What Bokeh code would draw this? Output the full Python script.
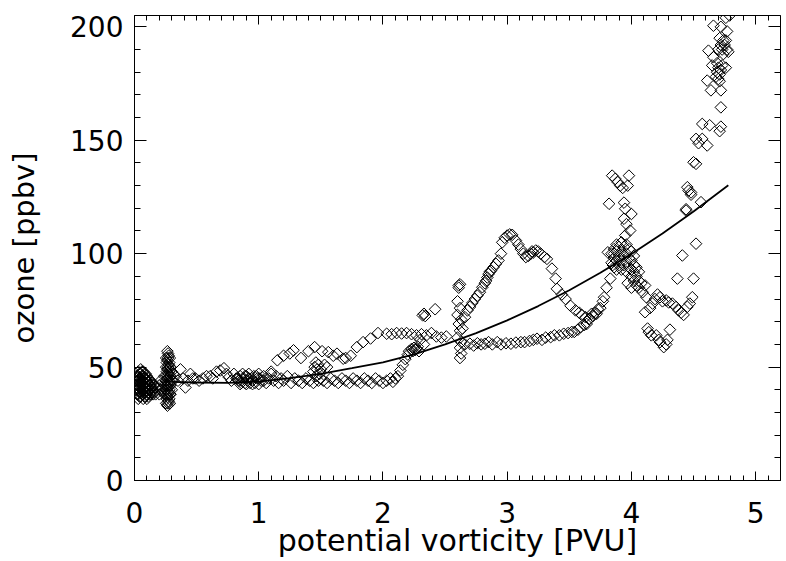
from bokeh.plotting import figure
from bokeh.models import (Range1d, LinearAxis, SingleIntervalTicker,
                          CustomJSTickFormatter, ColumnDataSource)
from bokeh.embed import file_html
from bokeh.resources import INLINE

# ---------------- data ----------------
A_pv = [0.02, 0.02, 0.02, 0.02, 0.02, 0.04, 0.04, 0.04, 0.04, 0.04, 0.04,
        0.06, 0.06, 0.06, 0.06, 0.06, 0.06, 0.08, 0.08, 0.08, 0.08, 0.08, 0.08,
        0.10, 0.10, 0.10, 0.10, 0.10, 0.10, 0.12, 0.12, 0.12, 0.12,
        0.14, 0.14, 0.14, 0.16, 0.16, 0.19, 0.21, 0.21]
A_o3 = [38, 40, 42, 44, 46, 37, 39, 41, 43, 45, 47,
        38, 40, 42, 44, 46, 48, 37, 39, 41, 43, 45, 47,
        36, 38, 40, 42, 44, 46, 38, 40, 42, 44,
        39, 41, 43, 39, 42, 41, 40, 44]

A2_pv = [0.01, 0.01, 0.01, 0.01, 0.01,
         0.03, 0.03, 0.03, 0.03, 0.03, 0.03, 0.03,
         0.05, 0.05, 0.05, 0.05, 0.05, 0.05, 0.05,
         0.07, 0.07, 0.07, 0.07, 0.07, 0.07, 0.07,
         0.09, 0.09, 0.09, 0.09, 0.09, 0.09,
         0.11, 0.11, 0.11, 0.11, 0.11,
         0.13, 0.13, 0.13, 0.13,
         0.15, 0.15, 0.15, 0.17, 0.17, 0.20, 0.20]
A2_o3 = [39, 41, 43, 45, 47,
         36, 38, 40, 42, 44, 46, 48,
         37, 39, 41, 43, 45, 47, 49,
         36, 38, 40, 42, 44, 46, 48,
         37, 39, 41, 43, 45, 47,
         37, 39, 41, 43, 45,
         38, 40, 42, 44,
         38, 40, 42, 38, 41, 38, 42]

B_pv = [0.25, 0.25, 0.26, 0.26, 0.26, 0.26, 0.26, 0.27, 0.27, 0.27, 0.27, 0.27, 0.27, 0.27,
        0.28, 0.28, 0.28, 0.28, 0.28, 0.29, 0.29, 0.29, 0.29, 0.31, 0.31]
B_o3 = [40, 44, 36, 40, 44, 48, 52, 34, 38, 42, 46, 50, 54, 56,
        36, 40, 44, 48, 52, 38, 42, 46, 50, 44, 47]

B2_pv = [0.24, 0.24, 0.24,
         0.255, 0.255, 0.255, 0.255, 0.255, 0.255,
         0.265, 0.265, 0.265, 0.265, 0.265, 0.265, 0.265,
         0.275, 0.275, 0.275, 0.275, 0.275, 0.275,
         0.285, 0.285, 0.285, 0.285, 0.285, 0.285,
         0.30, 0.30, 0.30]
B2_o3 = [38, 42, 46,
         34, 38, 42, 46, 50, 54,
         33, 37, 41, 45, 49, 53, 57,
         35, 39, 43, 47, 51, 55,
         34, 38, 42, 46, 50, 54,
         40, 44, 48]

C_pv = [0.33, 0.35, 0.37, 0.39, 0.41, 0.43, 0.45, 0.47, 0.49, 0.52, 0.55, 0.58, 0.61,
        0.63, 0.66, 0.69, 0.72, 0.74, 0.76, 0.78, 0.80, 0.82]
C_o3 = [46, 44, 49, 45, 41, 44, 47, 45, 45, 44, 45, 46, 46,
        45, 48, 48.5, 49.5, 47, 45.5, 44, 47, 45]

D_pv = [0.84, 0.85, 0.86, 0.87, 0.88, 0.89, 0.90, 0.91, 0.92, 0.93,
        0.94, 0.96, 0.97, 0.99, 1.00, 1.02, 1.04, 1.06, 1.08, 1.10,
        1.12, 1.14, 1.16, 1.18, 1.20, 1.23, 1.26, 1.29, 1.32, 1.35,
        1.38, 1.41, 1.44, 1.46, 1.48, 1.50,
        1.44, 1.45, 1.46, 1.47, 1.48, 1.49, 1.50, 1.53, 1.55]
D_o3 = [44, 46, 43, 47, 45, 43, 46, 44, 47, 43,
        45, 46, 43, 45, 47, 44, 46, 43, 45, 47,
        44, 46, 43, 45, 44, 46, 43, 45, 44, 43,
        45, 44, 43, 46, 44, 45,
        48, 50, 52, 49, 51, 47, 49, 51, 50]

D2_pv = [0.83, 0.86, 0.89, 0.92, 0.95, 0.98, 1.01, 1.04, 0.85, 0.90, 0.95, 1.00]
D2_o3 = [45, 44, 46, 45, 44, 46, 45, 44, 42.5, 42.5, 42.5, 42.5]

E_pv = [1.10, 1.15, 1.20, 1.25, 1.28, 1.34, 1.40, 1.45, 1.51, 1.56,
        1.60, 1.63, 1.68, 1.70, 1.74, 1.79, 1.84, 1.90, 1.96, 2.03,
        2.07, 2.11, 2.15, 2.19, 2.23, 2.27, 2.31, 2.35, 2.39, 2.43,
        2.47, 2.51]
E_o3 = [48, 53, 55, 56, 57.4, 54, 57, 58.8, 57, 56.6,
        55, 55.9, 53.7, 54, 55, 58.8, 61, 62.6, 65, 64.7,
        64.5, 65, 64.8, 65, 64.5, 64, 64.5, 64, 65, 63.5,
        63, 63.5]

F_pv = [1.52, 1.55, 1.58, 1.61, 1.64, 1.67, 1.70, 1.73, 1.76, 1.79,
        1.82, 1.85, 1.88, 1.91, 1.94, 1.97, 2.00, 2.03, 2.06, 2.08,
        2.10, 2.12, 2.14, 2.16, 2.18, 2.20, 2.21, 2.23, 2.24, 2.25,
        2.26, 2.27, 2.28, 2.29]
F_o3 = [44, 43, 45, 44, 43, 45, 44, 43, 45, 44,
        43, 45, 44, 43, 45, 44, 43, 44, 45, 43.5,
        45, 46, 48.5, 51, 53.5, 55.5, 57, 58, 57, 58.5,
        57.5, 58, 59, 57]

G_pv = [2.30, 2.33, 2.32, 2.33, 2.34, 2.42, 2.61, 2.62, 2.61, 2.60,
        2.62, 2.60, 2.63, 2.61, 2.62, 2.60, 2.63, 2.62, 2.63, 2.62]
G_o3 = [62, 60, 72.8, 73.5, 72.5, 75.5, 85, 86.5, 86, 79,
        76, 73, 71, 69, 66, 63, 61, 58.5, 56, 54]

H_pv = [2.66, 2.70, 2.73, 2.76, 2.79, 2.82, 2.85, 2.88, 2.92, 2.95,
        2.99, 3.03, 3.07, 3.11, 3.14, 3.18, 3.21, 3.24, 3.28, 3.31,
        3.35, 3.38, 3.42, 3.455, 3.49, 3.52, 3.54, 3.57, 3.59, 3.62,
        3.64, 3.66, 3.68, 3.71, 3.73, 3.75, 3.77, 3.78, 3.80, 3.83,
        3.85, 3.86]
H_o3 = [60, 60.3, 59.5, 60.5, 60, 60.3, 61, 60, 61, 60,
        60.5, 60.3, 60.8, 61, 61, 61.5, 62, 62.5, 62, 63,
        63.2, 64, 64, 64.7, 65, 65.5, 65.5, 66.5, 67.6, 68.5,
        69, 71, 73.5, 74, 75.5, 76, 79, 80.8, 85, 89,
        95, 100]

I_pv = [2.64, 2.66, 2.68, 2.70, 2.72, 2.74, 2.76, 2.78, 2.80, 2.82,
        2.83, 2.84, 2.85, 2.86, 2.87, 2.89, 2.91, 2.93, 2.95, 2.96,
        2.98, 3.00, 3.02, 3.04, 3.07, 3.09, 3.11, 3.13, 3.15, 3.17,
        3.19, 3.20, 3.21, 3.23, 3.25, 3.27, 3.30, 3.32, 3.36, 3.39,
        3.40, 3.44, 3.47, 3.51, 3.55, 3.58, 3.60, 3.63, 3.66, 3.69,
        3.72]
I_o3 = [67, 72, 75, 76.5, 78.3, 80, 81.5, 83, 85.2, 87,
        88, 89.5, 91, 92, 92.5, 94, 95.5, 97, 100, 105,
        107, 108, 108.5, 108.3, 105.8, 104, 102, 100, 98.5, 99,
        100, 101, 100.5, 101.4, 101, 100, 98.5, 97.7, 93.4, 89,
        84.5, 82, 80, 77, 75, 74, 73, 72, 71.3, 72.5,
        73.5]

J_pv = [3.84, 3.84, 3.86, 3.86, 3.86, 3.88, 3.88, 3.88, 3.88, 3.90, 3.90, 3.90,
        3.92, 3.92, 3.92, 3.92, 3.94, 3.94, 3.94, 3.96, 3.96, 3.96, 3.96,
        3.98, 3.98, 3.98, 4.00, 4.00, 4.00, 4.00, 4.02, 4.02, 4.02, 4.02,
        4.04, 4.04, 4.04, 4.06, 4.06, 4.06, 4.08,
        3.81, 3.95, 3.99, 4.11, 3.97, 4.00]
J_o3 = [96, 100, 94, 98, 102, 93, 97, 101, 104, 95, 99, 103,
        93, 97, 101, 105, 95, 99, 103, 92, 96, 100, 104,
        94, 98, 102, 90, 93, 97, 101, 88, 92, 95, 99,
        86, 90, 94, 85, 88, 92, 87,
        100.6, 108, 110.2, 86, 87, 85]

K_pv = [3.845, 3.87, 3.89, 3.91, 3.93, 3.98, 3.97, 3.82, 3.94, 3.95, 4.00, 3.94, 3.96]
K_o3 = [134.4, 133, 131.5, 130, 129, 134.4, 130, 122, 122.5, 119.8, 117.5, 115.4, 113]

L_pv = [4.09, 4.12, 4.11, 4.15, 4.17, 4.19, 4.21, 4.23, 4.25, 4.28,
        4.30, 4.33, 4.36, 4.38, 4.40, 4.42, 4.45, 4.47, 4.49,
        4.13, 4.14, 4.16, 4.20, 4.22, 4.23, 4.26, 4.28, 4.29, 4.31,
        4.37, 4.50, 4.41, 4.52, 4.44, 4.46, 4.48, 4.56, 4.52, 4.45, 4.48, 4.44]
L_o3 = [83, 80.8, 74.2, 76, 78, 80, 82, 80.8, 79, 79.4,
        78.5, 78, 76.5, 75, 74, 73, 76.6, 78, 80.8,
        67, 65.4, 64, 64, 62, 61, 58.8, 60, 62, 66.5,
        89, 89, 99.2, 104.4, 119, 127.8, 126, 122.7, 139.6, 129.3, 127, 119.6]

M_pv = [4.50, 4.52, 4.54, 4.57, 4.61, 4.57, 4.63, 4.72, 4.71, 4.72,
        4.61, 4.64, 4.72, 4.65, 4.76,
        4.68, 4.69, 4.70, 4.71, 4.72, 4.70, 4.73, 4.69, 4.71,
        4.62, 4.66,
        4.70, 4.72, 4.74, 4.73, 4.75, 4.77, 4.71, 4.76, 4.78, 4.74,
        4.66, 4.72, 4.77, 4.76, 4.79]
M_o3 = [140.3, 150.6, 148.7, 150.6, 147.7, 157.2, 156.6, 156, 154, 164.5,
        176.3, 172, 172, 183, 182,
        178, 180, 182, 179, 181, 177, 183, 184, 176,
        189.5, 186.6,
        190, 192, 194, 190, 192, 190, 195, 194, 189, 188,
        200.5, 200, 198, 204, 205]

# fitted curve
fit_pv = [0.30, 0.50, 0.75, 1.00, 1.25, 1.50, 1.75, 2.00, 2.25, 2.50,
          2.75, 3.00, 3.25, 3.50, 3.75, 4.00, 4.25, 4.50, 4.78]
fit_o3 = [43.5, 43.2, 43.0, 43.6, 45.1, 47.0, 49.5, 52.1, 55.6, 60.0,
          65.0, 70.6, 76.9, 83.9, 91.6, 99.9, 108.9, 118.6, 130.2]

x_title = "potential vorticity [PVU]"
y_title = "ozone [ppbv]"

pv = (A_pv + A2_pv + B_pv + B2_pv + C_pv + D_pv + D2_pv + E_pv + F_pv + G_pv
      + H_pv + I_pv + J_pv + K_pv + L_pv + M_pv)
o3 = (A_o3 + A2_o3 + B_o3 + B2_o3 + C_o3 + D_o3 + D2_o3 + E_o3 + F_o3 + G_o3
      + H_o3 + I_o3 + J_o3 + K_o3 + L_o3 + M_o3)
src = ColumnDataSource(dict(pv=pv, o3=o3))

FONT = "DejaVu Sans"

p = figure(width=786, height=561, x_range=Range1d(0, 5.2), y_range=Range1d(0, 205),
           output_backend="svg", toolbar_location=None,
           min_border_left=134, min_border_right=6, min_border_top=15, min_border_bottom=81)
p.xgrid.grid_line_color = None
p.ygrid.grid_line_color = None
p.outline_line_color = None
p.background_fill_color = "white"
p.border_fill_color = "white"


def style_common(ax):
    ax.axis_line_color = "black"
    ax.axis_line_width = 1
    ax.major_tick_line_color = "black"
    ax.minor_tick_line_color = "black"
    ax.major_tick_out = 0
    ax.minor_tick_out = 0
    ax.major_label_text_color = "black"
    ax.major_label_text_font = FONT
    ax.major_label_text_font_size = "28px"


xb = p.xaxis[0]
xb.ticker = SingleIntervalTicker(interval=1, num_minor_ticks=10)
style_common(xb)
xb.major_tick_in = 9
xb.minor_tick_in = 5
xb.major_label_standoff = 21
xb.axis_label = x_title
xb.axis_label_text_font = FONT
xb.axis_label_text_font_size = "30px"
xb.axis_label_text_font_style = "normal"
xb.axis_label_text_color = "black"
xb.axis_label_standoff = -3

yl = p.yaxis[0]
yl.ticker = SingleIntervalTicker(interval=50, num_minor_ticks=5)
style_common(yl)
yl.major_tick_in = 12
yl.minor_tick_in = 6
yl.major_label_standoff = 11
yl.axis_label = y_title
yl.axis_label_text_font = FONT
yl.axis_label_text_font_size = "29px"
yl.axis_label_text_font_style = "normal"
yl.axis_label_text_color = "black"
yl.axis_label_standoff = 26

blank = CustomJSTickFormatter(code="return ''")
xt = LinearAxis(ticker=SingleIntervalTicker(interval=1, num_minor_ticks=10), formatter=blank)
style_common(xt)
xt.major_label_text_font_size = "0px"
xt.major_label_standoff = 0
xt.major_tick_in = 9
xt.minor_tick_in = 5
p.add_layout(xt, "above")

yr = LinearAxis(ticker=SingleIntervalTicker(interval=50, num_minor_ticks=5), formatter=blank)
style_common(yr)
yr.major_label_text_font_size = "0px"
yr.major_label_standoff = 0
yr.major_tick_in = 12
yr.minor_tick_in = 6
p.add_layout(yr, "right")

p.scatter("pv", "o3", source=src, marker="square", size=8.2, angle=0.785398,
          fill_color=None, line_color="black", line_width=1)
p.line(fit_pv, fit_o3, line_color="black", line_width=1.8)

open("out.html", "w").write(file_html(p, INLINE))
